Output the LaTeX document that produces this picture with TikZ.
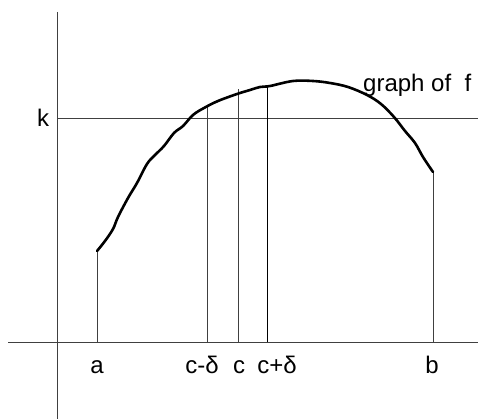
\documentclass[tikz,border=0pt]{standalone}
\usepackage{fontspec}
\setmainfont{Liberation Sans}
\begin{document}
\begin{tikzpicture}[x=1pt,y=-1pt,
  thin line/.style={line width=0.8pt,draw=black!75},
  curve/.style={line width=2.6pt,black,line join=round,line cap=round},
  lab/.style={font=\fontsize{24}{28}\selectfont,inner sep=0pt,anchor=base}]
\useasboundingbox (0,0) rectangle (478,419);
% axes
\coordinate (yt) at (57,12); \coordinate (yb) at (57,419);
\coordinate (xl) at (8,342); \coordinate (xr) at (478,342);
\coordinate (kl) at (57,118); \coordinate (kr) at (478,118);
\draw[thin line] (yt) -- (yb);
\draw[thin line] (xl) -- (xr);
\draw[thin line] (kl) -- (kr);
% vertical lines
\coordinate (a0) at (97,342); \coordinate (a1) at (97,251);
\coordinate (cm0) at (207,342); \coordinate (cm1) at (207,107);
\coordinate (c0) at (238,342); \coordinate (c1) at (238,89);
\coordinate (cp0) at (267,342); \coordinate (cp1) at (267,85);
\coordinate (b0) at (433,342); \coordinate (b1) at (433,172);
\draw[thin line] (a0) -- (a1);
\draw[thin line] (cm0) -- (cm1);
\draw[thin line] (c0) -- (c1);
\draw[thin line,draw=black] (cp0) -- (cp1);
\draw[thin line] (b0) -- (b1);
% curve
\draw[curve] plot[smooth,tension=0.6] coordinates {
(97,251) (105,241) (113,229) (118,217) (128,198)
(137,183) (147,164) (155,155) (164,146) (174,133) (183,126)
(193,115) (204,108) (218,101) (237,94) (250,90) (260,87)
(270,86) (293,81) (313,81) (330,83) (348,87) (367,95)
(381,104) (394,117) (405,131) (415,143) (423,157) (433,172)};
% labels
\node[lab] (k) at (43,127) {k};
\node[lab] (la) at (97,373) {a};
\node[lab] (lcm) at (202,373) {c-δ};
\node[lab] (lc) at (239,373) {c};
\node[lab] (lcp) at (277,373) {c+δ};
\node[lab] (lb) at (432,373) {b};
\node[lab,anchor=base west] (g) at (363,92) {graph of\ \ f};
\end{tikzpicture}
\end{document}
